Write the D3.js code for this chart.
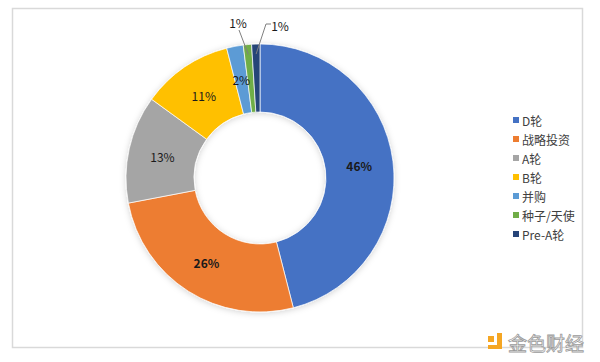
<!DOCTYPE html>
<html>
<head>
<meta charset="utf-8">
<script src="https://cdn.jsdelivr.net/npm/d3@7"></script>
<style>
  body { margin: 0; background: #fff; }
  svg { display: block; font-family: "Noto Sans CJK SC", "Noto Sans", sans-serif; }
</style>
</head>
<body>
<svg width="600" height="362"></svg>
<script>
// chart data
const categories = ['D轮', '战略投资', 'A轮', 'B轮', '并购', '种子/天使', 'Pre-A轮'];
const shares = [46, 26, 13, 11, 2, 1, 1];
const colors = ['#4472C4', '#ED7D31', '#A5A5A5', '#FFC000', '#5B9BD5', '#70AD47', '#264478'];

const svg = d3.select('svg');

// outer frame
svg.append('rect')
  .attr('x', 12.5).attr('y', 8.5)
  .attr('width', 570).attr('height', 339)
  .attr('fill', 'none')
  .attr('stroke', '#d9d9d9')
  .attr('stroke-width', 1.5);

const cx = 260, cy = 178, outerR = 134, innerR = 66;

const defs = svg.append('defs');
const f = defs.append('filter').attr('id', 'shadow')
  .attr('x', '-20%').attr('y', '-20%').attr('width', '140%').attr('height', '140%');
f.append('feDropShadow').attr('dx', 0).attr('dy', 1).attr('stdDeviation', 3)
  .attr('flood-color', '#000').attr('flood-opacity', 0.18);

const data = categories.map((c, i) => ({ name: c, value: shares[i], color: colors[i] }));

const pie = d3.pie().value(d => d.value).sort(null);
const arcs = pie(data);
const arc = d3.arc().innerRadius(innerR).outerRadius(outerR);

const g = svg.append('g').attr('transform', `translate(${cx},${cy})`);

g.append('g').attr('filter', 'url(#shadow)')
  .selectAll('path')
  .data(arcs)
  .join('path')
  .attr('d', arc)
  .attr('fill', d => d.data.color)
  .attr('stroke', '#fff')
  .attr('stroke-width', 0.7);

// labels: inside for big slices, outside with leaders for the tiny ones
const labelArc = d3.arc().innerRadius((innerR + outerR) / 2).outerRadius((innerR + outerR) / 2);
const outside = { '种子/天使': [-22, -156], 'Pre-A轮': [20, -153] };

arcs.forEach(d => {
  const txt = d.data.value + '%';
  if (outside[d.data.name]) {
    const [lx, ly] = outside[d.data.name];
    const p = d3.arc().innerRadius(outerR - 10).outerRadius(outerR - 10).centroid(d);
    const pts = d.data.name === 'Pre-A轮'
      ? [[p[0], p[1]], [lx - 14, ly - 1], [lx - 9, ly - 1]]
      : [[p[0], p[1]], [lx + 1, ly + 8]];
    g.append('path')
      .attr('d', d3.line()(pts))
      .attr('fill', 'none')
      .attr('stroke', '#7f7f7f')
      .attr('stroke-width', 1);
    g.append('text')
      .attr('x', lx).attr('y', ly)
      .attr('text-anchor', 'middle')
      .attr('dominant-baseline', 'central')
      .attr('font-size', 12)
      .attr('fill', '#1a1a1a')
      .text(txt);
  } else {
    const [x, y] = labelArc.centroid(d);
    g.append('text')
      .attr('x', x).attr('y', y)
      .attr('text-anchor', 'middle')
      .attr('dominant-baseline', 'central')
      .attr('font-size', 12)
      .attr('font-weight', d.data.value > 20 ? 'bold' : 'normal')
      .attr('fill', '#1a1a1a')
      .text(txt);
  }
});

// legend
const legend = svg.append('g').attr('transform', 'translate(513,120)');
const row = d3.scaleBand().domain(categories).range([0, 133]);
const item = legend.selectAll('g')
  .data(data)
  .join('g')
  .attr('transform', d => `translate(0,${row(d.name)})`);
item.append('rect')
  .attr('x', 0).attr('y', -3)
  .attr('width', 6).attr('height', 6)
  .attr('fill', d => d.color);
item.append('text')
  .attr('x', 9).attr('y', 0)
  .attr('dominant-baseline', 'central')
  .attr('font-size', 12)
  .attr('fill', '#404040')
  .text(d => d.name);

// watermark
const wm = svg.append('g').attr('transform', 'translate(488,333)');
wm.append('rect').attr('x', 0).attr('y', 3).attr('width', 6).attr('height', 6).attr('fill', '#f5a623');
wm.append('path').attr('d', 'M9,0 L14,0 L14,16 L0,16 L0,12 L9,12 Z').attr('fill', '#f5a623');
wm.append('text')
  .attr('x', 20).attr('y', 9)
  .attr('dominant-baseline', 'central')
  .attr('font-size', 19)
  .attr('fill', '#fff')
  .attr('stroke', '#9a9a9a')
  .attr('stroke-width', 0.8)
  .text('金色财经');
</script>
</body>
</html>
